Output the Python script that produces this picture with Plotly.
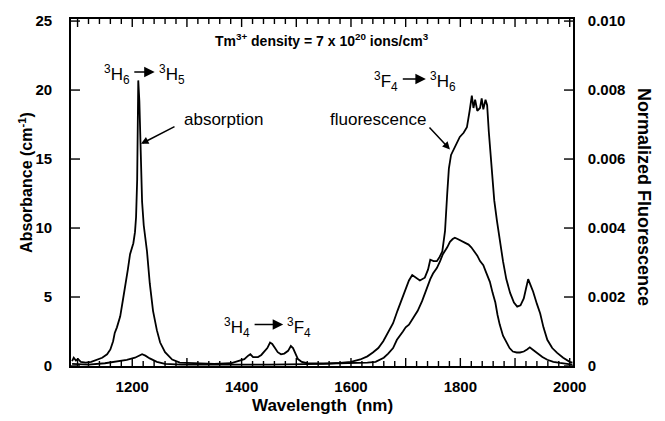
import plotly.graph_objects as go

# ---------------- data ----------------
abs_nm = [1090, 1093, 1097, 1101, 1106, 1115, 1125, 1136, 1145, 1154, 1160, 1165, 1168, 1172,
          1178, 1183, 1188, 1192, 1196, 1199, 1202, 1205, 1207, 1209, 1211, 1213, 1215, 1218,
          1221, 1227, 1232, 1238, 1245, 1251, 1260, 1273, 1287, 1318, 1350, 1380, 1395, 1405,
          1412, 1416, 1421, 1430, 1436, 1441, 1447, 1452, 1456, 1461, 1466, 1472, 1478, 1485,
          1490, 1494, 1498, 1503, 1510, 1520, 1560, 1600, 1630, 1645, 1653, 1660, 1668, 1677,
          1684, 1690, 1695, 1700, 1706, 1714, 1722, 1730, 1736, 1741, 1745, 1750, 1757, 1763,
          1768, 1776, 1781, 1786, 1790, 1795, 1800, 1805, 1810, 1815, 1820, 1825, 1831, 1836,
          1842, 1846, 1850, 1854, 1859, 1864, 1868, 1872, 1878, 1885, 1890, 1896, 1903, 1909,
          1916, 1922, 1927, 1932, 1940, 1950, 1959, 1970, 1982, 1995, 2005]
abs_val = [0.35, 0.6, 0.4, 0.5, 0.3, 0.25, 0.3, 0.45, 0.6, 0.85, 1.2, 1.8, 2.4, 2.8,
           3.6, 4.8, 5.9, 7.0, 8.1, 8.5, 8.9, 9.7, 10.8, 13.5, 20.7, 19.2, 15.5, 11.9,
           10.2, 8.3, 6.0, 4.0, 2.6, 1.7, 1.0, 0.47, 0.25, 0.18, 0.15, 0.2, 0.35, 0.5,
           0.75, 0.85, 0.65, 0.65, 0.8, 1.0, 1.3, 1.7, 1.6, 1.3, 1.0, 0.85, 0.9, 1.1,
           1.45, 1.3, 0.9, 0.5, 0.3, 0.2, 0.18, 0.2, 0.25, 0.3, 0.45, 0.6, 0.9, 1.3,
           1.9, 2.2, 2.5, 2.8, 3.0, 3.5, 4.0, 4.7, 5.4, 5.9, 6.3, 6.7, 7.1, 7.6,
           8.1, 8.6, 9.0, 9.2, 9.3, 9.2, 9.1, 9.0, 8.9, 8.8, 8.6, 8.3, 8.0, 7.6,
           7.3, 6.9, 6.5, 6.1, 5.3, 4.6, 3.7, 3.0, 2.2, 1.6, 1.3, 1.05, 0.98, 0.98,
           1.05, 1.2, 1.35, 1.2, 0.95, 0.65, 0.45, 0.3, 0.22, 0.15, 0.1]

fl_nm = [1090, 1120, 1150, 1170, 1190, 1205, 1212, 1218, 1224, 1232, 1245, 1260, 1290, 1350,
         1400, 1450, 1500, 1550, 1580, 1600, 1617, 1630, 1640, 1650, 1659, 1668, 1677, 1685,
         1693, 1700, 1706, 1712, 1718, 1726, 1735, 1741, 1745, 1751, 1757, 1762, 1767, 1772,
         1776, 1779, 1783, 1790, 1799, 1806, 1812, 1817, 1821, 1824, 1827, 1831, 1836, 1839,
         1842, 1846, 1849, 1852, 1855, 1858, 1862, 1867, 1872, 1878, 1884, 1891, 1898, 1904,
         1910, 1916, 1920, 1924, 1928, 1933, 1940, 1946, 1952, 1959, 1968, 1977, 1988, 2000, 2005]
fl_val = [0.00006, 0.00004, 0.00008, 0.00012, 0.00018, 0.00024, 0.00030, 0.00034, 0.00030,
          0.00022, 0.00012, 0.00006, 0.00004, 0.00003, 0.00004, 0.00004, 0.00005, 0.00006,
          0.00009, 0.00012, 0.00019, 0.00028, 0.00039, 0.00052, 0.00072, 0.00096, 0.00124,
          0.00160, 0.00192, 0.00220, 0.00248, 0.00264, 0.00256, 0.00248, 0.00256, 0.00280,
          0.00308, 0.00304, 0.00304, 0.00316, 0.00332, 0.00392, 0.00500, 0.00572, 0.00612,
          0.00636, 0.00664, 0.00676, 0.00692, 0.00740, 0.00784, 0.00748, 0.00772, 0.00740,
          0.00748, 0.00776, 0.00744, 0.00772, 0.00756, 0.00680, 0.00620, 0.00544, 0.00480,
          0.00420, 0.00360, 0.00304, 0.00252, 0.00212, 0.00184, 0.00172, 0.00176, 0.00196,
          0.00224, 0.00252, 0.00236, 0.00216, 0.00180, 0.00152, 0.00112, 0.00076, 0.00052,
          0.00038, 0.00024, 0.00012, 0.00010]

x_tick_vals = [1100, 1200, 1300, 1400, 1500, 1600, 1700, 1800, 1900, 2000]
x_tick_text = ["", "1200", "", "1400", "", "1600", "", "1800", "", "2000"]
x_minor_vals = list(range(1100, 2001, 20))
y_tick_vals = [0, 5, 10, 15, 20, 25]
y_tick_text = ["0", "5", "10", "15", "20", "25"]
y2_tick_vals = [0, 0.002, 0.004, 0.006, 0.008, 0.010]
y2_tick_text = ["0", "0.002", "0.004", "0.006", "0.008", "0.010"]

FONT = "Liberation Sans, Arial, Helvetica, sans-serif"
BLACK = "#000000"
X_RANGE = [1088, 2006]

fig = go.Figure()
fig.add_trace(go.Scatter(x=abs_nm, y=abs_val, mode="lines", name="absorption",
                         line=dict(color=BLACK, width=1.8), xaxis="x", yaxis="y"))
fig.add_trace(go.Scatter(x=fl_nm, y=fl_val, mode="lines", name="fluorescence",
                         line=dict(color=BLACK, width=1.8), xaxis="x", yaxis="y2"))

tickfont = dict(family=FONT, size=15, color=BLACK, weight="bold")

fig.update_layout(
    width=665, height=421,
    margin=dict(l=71, r=92, t=15, b=55),
    paper_bgcolor="white", plot_bgcolor="white",
    showlegend=False,
    xaxis=dict(range=X_RANGE, tickmode="array", tickvals=x_tick_vals, ticktext=x_tick_text,
               ticks="", showline=True, linecolor=BLACK, linewidth=1.6, mirror=True,
               showgrid=False, zeroline=False, tickfont=tickfont, ticklabelstandoff=6),
    yaxis=dict(range=[0, 25.15], tickmode="array", tickvals=y_tick_vals, ticktext=y_tick_text,
               ticks="", showline=True, linecolor=BLACK, linewidth=1.6,
               showgrid=False, zeroline=False, tickfont=tickfont, ticklabelstandoff=14),
    yaxis2=dict(range=[0, 0.01006], overlaying="y", side="right", tickmode="array",
                tickvals=y2_tick_vals, ticktext=y2_tick_text,
                ticks="", showline=True, linecolor=BLACK, linewidth=1.6,
                showgrid=False, zeroline=False, tickfont=tickfont, ticklabelstandoff=10),
)

# inward tick marks, placed through the axes' own scales (length in pixels)
shapes = []
tick_line = dict(color=BLACK, width=1.4)
for v in x_minor_vals:
    ln = 8 if v in x_tick_vals else 5
    for anchor, sign in ((0, 1), (1, -1)):
        shapes.append(dict(type="line", xref="x", yref="paper", x0=v, x1=v,
                           ysizemode="pixel", yanchor=anchor, y0=0, y1=sign * ln,
                           line=tick_line, layer="above"))
for v in y_tick_vals:
    shapes.append(dict(type="line", xref="paper", yref="y", y0=v, y1=v,
                       xsizemode="pixel", xanchor=0, x0=0, x1=9,
                       line=tick_line, layer="above"))
for v in y2_tick_vals:
    shapes.append(dict(type="line", xref="paper", yref="y2", y0=v, y1=v,
                       xsizemode="pixel", xanchor=1, x0=0, x1=-9,
                       line=tick_line, layer="above"))

lab = dict(family=FONT, size=17, color=BLACK)
ann = []
# axis titles
ann.append(dict(text="Wavelength  (nm)", xref="paper", yref="paper", x=0.5, y=-0.115,
                xanchor="center", yanchor="middle", showarrow=False,
                font=dict(family=FONT, size=17, color=BLACK, weight="bold")))
ann.append(dict(text="Absorbance (cm<sup>-1</sup>)", xref="paper", yref="paper", x=-0.09, y=0.53,
                xanchor="center", yanchor="middle", textangle=-90, showarrow=False,
                font=dict(family=FONT, size=16, color=BLACK, weight="bold")))
ann.append(dict(text="Normalized Fluorescence", xref="paper", yref="paper", x=1.143, y=0.488,
                xanchor="center", yanchor="middle", textangle=90, showarrow=False,
                font=dict(family=FONT, size=18, color=BLACK, weight="bold")))
# title inside the plot
ann.append(dict(text="Tm<sup>3+</sup> density = 7 x 10<sup>20</sup> ions/cm<sup>3</sup>",
                xref="x", yref="y", x=1547, y=23.6, xanchor="center", yanchor="middle",
                showarrow=False, font=dict(family=FONT, size=14, color=BLACK, weight="bold")))
# transition labels
ann.append(dict(text="<sup>3</sup>H<sub>6</sub>", xref="x", yref="y", x=1200, y=21.1,
                xanchor="right", yanchor="middle", showarrow=False, font=lab))
ann.append(dict(text="<sup>3</sup>H<sub>5</sub>", xref="x", yref="y", x=1245, y=21.1,
                xanchor="left", yanchor="middle", showarrow=False, font=lab))
ann.append(dict(text="<sup>3</sup>F<sub>4</sub>", xref="x", yref="y", x=1690, y=20.6,
                xanchor="right", yanchor="middle", showarrow=False, font=lab))
ann.append(dict(text="<sup>3</sup>H<sub>6</sub>", xref="x", yref="y", x=1740, y=20.6,
                xanchor="left", yanchor="middle", showarrow=False, font=lab))
ann.append(dict(text="<sup>3</sup>H<sub>4</sub>", xref="x", yref="y", x=1419, y=2.8,
                xanchor="right", yanchor="middle", showarrow=False, font=lab))
ann.append(dict(text="<sup>3</sup>F<sub>4</sub>", xref="x", yref="y", x=1480, y=2.8,
                xanchor="left", yanchor="middle", showarrow=False, font=lab))
ann.append(dict(text="absorption", xref="x", yref="y", x=1366, y=17.9,
                xanchor="center", yanchor="middle", showarrow=False, font=lab))
ann.append(dict(text="fluorescence", xref="x", yref="y", x=1649.5, y=17.9,
                xanchor="center", yanchor="middle", showarrow=False, font=lab))

# arrows
def arrow(x0, y0, x1, y1, size):
    return dict(x=x1, y=y1, ax=x0, ay=y0, xref="x", yref="y", axref="x", ayref="y",
                text="", showarrow=True, arrowhead=2, arrowsize=size, arrowwidth=1.5,
                arrowcolor=BLACK, standoff=0, startstandoff=0)

ann.append(arrow(1201, 21.3, 1241, 21.3, 1.4))
ann.append(arrow(1692, 20.8, 1737, 20.8, 1.4))
ann.append(arrow(1421, 3.0, 1476, 3.0, 1.4))
ann.append(arrow(1280, 17.4, 1216, 16.1, 1.0))
ann.append(arrow(1741, 17.4, 1781, 15.7, 1.0))

fig.update_layout(annotations=ann, shapes=shapes)
fig.write_html("out.html")
